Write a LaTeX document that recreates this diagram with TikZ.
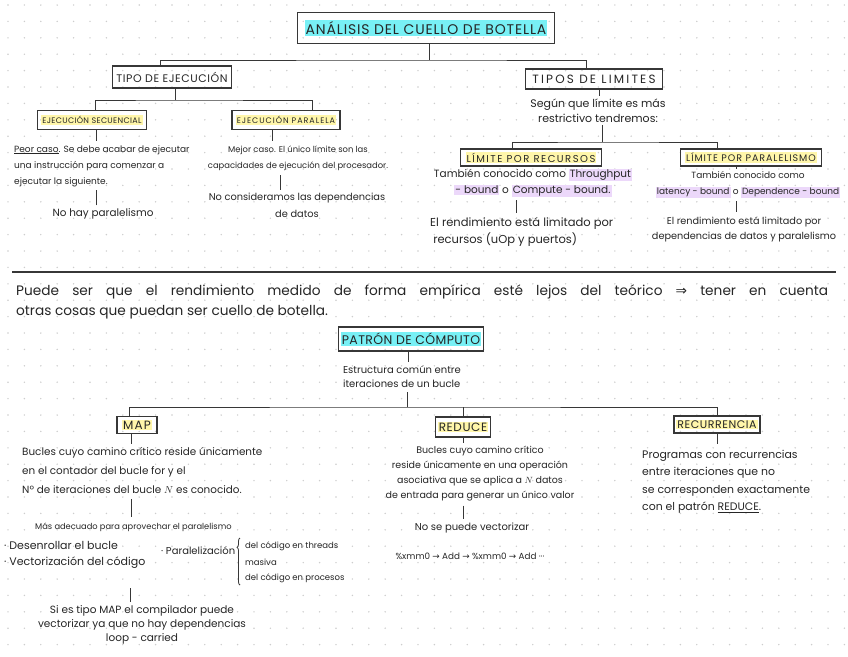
\documentclass[tikz,border=0pt]{standalone}
\usepackage{fontspec}
\setmainfont{Poppins}
\newfontfamily\symb{DejaVu Sans}
\usetikzlibrary{positioning,calc,decorations.pathreplacing}
\definecolor{InkGray}{RGB}{55,55,55}
\definecolor{HlCyan}{RGB}{120,240,245}
\definecolor{HlYellow}{RGB}{255,246,170}
\definecolor{HlLila}{RGB}{236,216,250}
\definecolor{DotGray}{RGB}{205,205,205}
\newcommand{\hlmark}[2]{{\setlength{\fboxsep}{1pt}\colorbox{#1}{#2}}}
\newcommand{\fs}[2]{\fontsize{#1}{#2}\selectfont}
\newcommand{\spaced}[2]{{\addfontfeature{LetterSpace=#1}#2}}
\tikzset{
  hbox/.style={rectangle, draw=InkGray, line width=1.2pt, inner sep=1.5pt, align=center, text=black!85},
  note/.style={inner sep=0pt, text=black!85, align=center},
  link/.style={draw=InkGray, line width=0.9pt}
}

\begin{document}
\begin{tikzpicture}[x=1pt, y=-1pt]
  \useasboundingbox (0,0) rectangle (848,656);
  \fill[white] (0,0) rectangle (848,656);
  % dot grid
  \foreach \i in {0,...,51} \foreach \j in {0,...,39}
    \fill[DotGray] (8+16.4*\i, 5+16.4*\j) circle (0.8pt);

  % upper half: bottleneck analysis
  \node[hbox, minimum width=257pt, minimum height=31pt, font=\fs{14}{16}] (title) at (426,28) {\hlmark{HlCyan}{\spaced{6}{ANÁLISIS DEL CUELLO DE BOTELLA}}};
  \node[hbox, minimum width=119pt, minimum height=22pt, font=\fs{11}{13}] (ejec) at (172,77) {\spaced{5}{TIPO DE EJECUCIÓN}};
  \node[hbox, minimum width=137pt, minimum height=20pt, font=\fs{12}{14}] (lims) at (594,79) {\spaced{18}{TIPOS DE LIMITES}};
  \node[hbox, minimum width=109pt, minimum height=19pt, font=\fs{8}{9}] (sec) at (92,120) {\hlmark{HlYellow}{\spaced{4}{EJECUCIÓN SECUENCIAL}}};
  \node[hbox, minimum width=108pt, minimum height=19pt, font=\fs{8}{9}] (par) at (286,120) {\hlmark{HlYellow}{\spaced{12}{EJECUCIÓN PARALELA}}};
  \node[hbox, minimum width=141pt, minimum height=17pt, font=\fs{10}{11}] (rec) at (531,157.5) {\hlmark{HlYellow}{\spaced{15}{LÍMITE POR RECURSOS}}};
  \node[hbox, minimum width=141pt, minimum height=17pt, font=\fs{9.5}{11}] (parl) at (751,157.5) {\hlmark{HlYellow}{\spaced{10}{LÍMITE POR PARALELISMO}}};

  \node[note, anchor=west, align=left, font=\fs{9}{16}] (secTxt) at (14,166) {\underline{Peor caso}. Se debe acabar de ejecutar\\una instrucción para comenzar a\\ejecutar la siguiente.};
  \node[note, font=\fs{10.4}{12}] (secNo) at (103,214) {No hay paralelismo};
  \node[note, font=\fs{8.4}{16}] (parTxt) at (298,158) {Mejor caso. El único límite son las\\capacidades de ejecución del procesador.};
  \node[note, font=\fs{9.8}{17}] (parNo) at (297,205) {No consideramos las dependencias\\de datos};
  \node[note, font=\fs{11}{15}] (limsTxt) at (598,111) {Según que límite es más\\restrictivo tendremos:};
  \node[note, font=\fs{10.5}{16}] (recTxt) at (533,183) {También conocido como \hlmark{HlLila}{Throughput}\\\hlmark{HlLila}{- bound} o \hlmark{HlLila}{Compute - bound.}};
  \node[note, anchor=west, align=left, font=\fs{11.5}{17}] (recNo) at (430,232) {El rendimiento está limitado por\\\ recursos (uOp y puertos)};
  \node[note, font=\fs{9}{16}] (parlTxt) at (748,185) {También conocido como\\\hlmark{HlLila}{latency - bound} o \hlmark{HlLila}{Dependence - bound}};
  \node[note, font=\fs{9.7}{15}] (parlNo) at (744,229) {El rendimiento está limitado por\\dependencias de datos y paralelismo};

  \coordinate (h1) at (429,60);
  \coordinate (h2) at (175,100);
  \coordinate (h3) at (602,142);
  \draw[link] (title.south -| h1) -- (h1);
  \draw[link] ([xshift=-12pt]ejec.north) |- (h1) -| ([xshift=-8pt]lims.north);
  \draw[link] (ejec.south -| h2) -- (h2);
  \draw[link] ([xshift=3pt]sec.north) |- (h2) -| ([xshift=26pt]par.north);
  \draw[link, shorten >=4pt] ([xshift=4pt]sec.south) -- ([xshift=4pt]sec.south |- secTxt.north);
  \draw[link, shorten <=3pt, shorten >=3pt] ([xshift=-7pt]secNo.north) -- ([xshift=-7pt]secNo.north |- secTxt.south);
  \draw[link, shorten >=4pt] ([xshift=-14pt]par.south) -- ([xshift=-14pt]par.south |- parTxt.north);
  \draw[link, shorten <=3pt, shorten >=4pt] ([xshift=-17pt]parNo.north) -- ([xshift=-17pt]parNo.north |- parTxt.south);
  \draw[link, shorten >=3pt] ([xshift=5pt]lims.south) -- ([xshift=5pt]lims.south |- limsTxt.north);
  \draw[link, shorten >=2pt] (h3) -- (h3 |- limsTxt.south);
  \draw[link] ([xshift=-19pt]rec.north) |- (h3) -| ([xshift=-34pt]parl.north);
  \draw[link, shorten >=3pt] ([xshift=-15pt]rec.south) -- ([xshift=-15pt]rec.south |- recTxt.north);
  \draw[link, shorten <=3pt, shorten >=4pt] ([xshift=-17pt]recTxt.south) -- ([xshift=-17pt]recTxt.south |- recNo.north);
  \draw[link, shorten >=3pt] ([xshift=-15pt]parl.south) -- ([xshift=-15pt]parl.south |- parlTxt.north);
  \draw[link, shorten <=3pt, shorten >=4pt] ([xshift=-12pt]parlTxt.south) -- ([xshift=-12pt]parlTxt.south |- parlNo.north);

  % divider
  \coordinate (divL) at (12,272);
  \coordinate (divR) at (836,272);
  \draw[InkGray, line width=1.2pt] (divL) -- (divR);

  \node[note, anchor=west, align=left, font=\fs{13.7}{20}] (para) at (16,302) {\makebox[812pt][s]{Puede ser que el rendimiento medido de forma empírica esté lejos del teórico {\symb ⇒} tener en cuenta}\\otras cosas que puedan ser cuello de botella.};

  % lower half: computation patterns
  \node[hbox, minimum width=145pt, minimum height=24pt, font=\fs{12.5}{14}] (patron) at (411,339) {\hlmark{HlCyan}{\spaced{3}{PATRÓN DE CÓMPUTO}}};
  \node[note, align=left, font=\fs{10}{14}] (patronTxt) at (402,377) {Estructura común entre\\iteraciones de un bucle};
  \node[hbox, minimum width=40pt, minimum height=17pt, font=\fs{12}{13}] (map) at (137,425) {\hlmark{HlYellow}{\spaced{10}{MAP}}};
  \node[hbox, minimum width=55pt, minimum height=20pt, font=\fs{12}{13}] (reduce) at (463,427) {\hlmark{HlYellow}{\spaced{5}{REDUCE}}};
  \node[hbox, minimum width=86pt, minimum height=17pt, font=\fs{11}{12}] (recu) at (717,424.5) {\hlmark{HlYellow}{\spaced{5}{RECURRENCIA}}};

  \node[note, anchor=west, align=left, font=\fs{10.4}{19}] (mapTxt) at (22,470) {Bucles cuyo camino crítico reside únicamente\\en el contador del bucle for y el\\Nº de iteraciones del bucle $N$ es conocido.};
  \node[note, anchor=west, font=\fs{8.3}{10}] (mapNo) at (35,527) {Más adecuado para aprovechar el paralelismo};
  \node[note, anchor=west, font=\fs{11}{12}] (bulA) at (4,545) {· Desenrollar el bucle};
  \node[note, anchor=west, font=\fs{11}{12}] (bulB) at (4,563) {· Vectorización del código};
  \node[note, anchor=west, font=\fs{10}{11}] (bulC) at (161,551) {· Paralelización};
  \node[note, anchor=west, font=\fs{8.5}{10}] (parA) at (245,546) {del código en threads};
  \node[note, anchor=west, font=\fs{8.5}{10}] (parB) at (245,562) {masiva};
  \node[note, anchor=west, font=\fs{8.5}{10}] (parC) at (245,578) {del código en procesos};
  \coordinate (brBot) at (240,585);
  \coordinate (brTop) at (240,538);
  \draw[InkGray, line width=0.8pt, decorate, decoration={brace, amplitude=3pt, aspect=0.8}] (brBot) -- (brTop);
  \node[note, font=\fs{10.5}{14}] (mapSi) at (142,625) {Si es tipo MAP el compilador puede\\vectorizar ya que no hay dependencias\\loop - carried};

  \node[note, font=\fs{9.5}{15}] (reduceTxt) at (480,474) {Bucles cuyo camino crítico\\reside únicamente en una operación\\asociativa que se aplica a $N$ datos\\de entrada para generar un único valor};
  \node[note, font=\fs{10}{11}] (reduceNo) at (472,528) {No se puede vectorizar};
  \node[note, font=\fs{8.8}{10}] (reduceX) at (470,556) {\%xmm0 {\symb →} Add {\symb →} \%xmm0 {\symb →} Add ···};

  \node[note, anchor=west, align=left, font=\fs{10.9}{17.5}] (recuTxt) at (642,482) {Programas con recurrencias\\entre iteraciones que no\\se corresponden exactamente\\con el patrón \underline{REDUCE}.};

  \coordinate (h4) at (407,407);
  \draw[link, shorten >=4pt] ([xshift=-3pt]patron.south) -- ([xshift=-3pt]patron.south |- patronTxt.north);
  \draw[link, shorten <=4pt] (patronTxt.south -| h4) -- (h4);
  \draw[link] ([xshift=-8pt]map.north) |- (h4) -| (recu.north);
  \draw[link] (reduce.north) -- (reduce.north |- h4);
  \draw[link, shorten >=3pt] ([xshift=-6pt]map.south) -- ([xshift=-6pt]map.south |- mapTxt.north);
  \draw[link, shorten <=6pt, shorten >=5pt] ([xshift=-6pt]map.south |- mapTxt.south) -- ([xshift=-6pt]map.south |- mapNo.north);
  \draw[link, shorten <=19pt, shorten >=3pt] ([xshift=-12pt]mapSi.north |- bulB.south) -- ([xshift=-12pt]mapSi.north);
  \draw[link, shorten >=3pt] (reduce.south) -- (reduce.south |- reduceTxt.north);
  \draw[link, shorten <=4pt, shorten >=4pt] (reduceTxt.south -| reduce.south) -- (reduceNo.north -| reduce.south);
  \draw[link, shorten >=6pt] (recu.south) -- (recu.south |- recuTxt.north);
\end{tikzpicture}
\end{document}
